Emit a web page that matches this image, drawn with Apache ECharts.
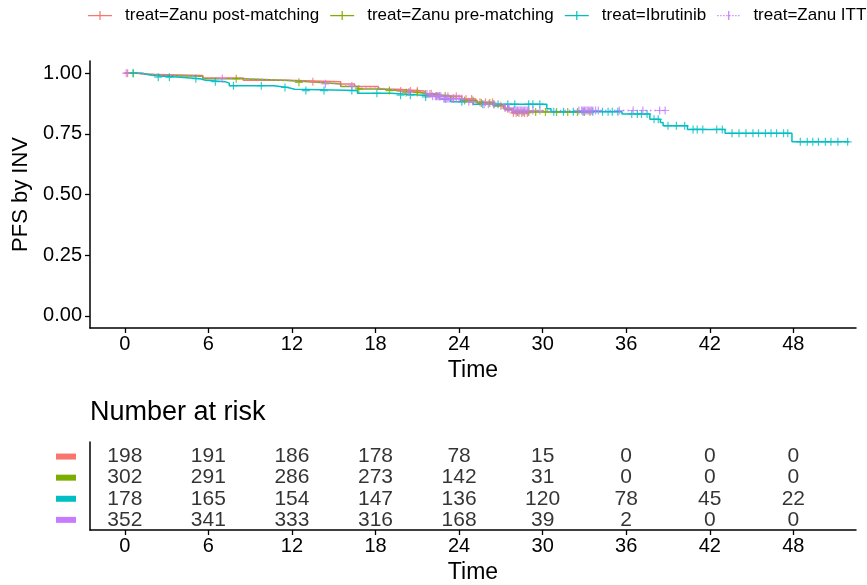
<!DOCTYPE html>
<html>
<head>
<meta charset="utf-8">
<script src="https://cdn.jsdelivr.net/npm/echarts@6.0.0/dist/echarts.min.js"></script>
<style>
  html, body { margin: 0; padding: 0; background: #fff; }
  #chart { width: 867px; height: 585px; }
</style>
</head>
<body>
<div id="chart"></div>
<script>
// Kaplan-Meier curves: [time in months, survival after the step]
const curvePost = [[0,1],[1.0,0.995],[1.5,0.99],[5.6,0.98],[8.5,0.971],[11.7,0.965],[15.5,0.955],[16.5,0.945],[18.2,0.934],[19.6,0.926],[21.5,0.915],[22.5,0.905],[24.2,0.893],[25.2,0.88],[26.5,0.866],[27.3,0.848],[27.8,0.836],[29.0,0.836]];
const curvePre = [[0,1],[0.8,0.997],[1.4,0.99],[2.6,0.987],[5.6,0.977],[8.5,0.97],[11.7,0.962],[13.8,0.955],[15.5,0.945],[16.7,0.935],[18.4,0.928],[19.6,0.92],[21.2,0.914],[21.9,0.906],[23.4,0.896],[24.1,0.887],[25.3,0.877],[26.5,0.866],[27.2,0.853],[27.9,0.84],[33.6,0.84]];
const curveIbr = [[0,1],[1.3,0.994],[1.6,0.989],[2.2,0.983],[4.0,0.977],[5.4,0.971],[5.8,0.965],[7.2,0.959],[7.5,0.948],[10.7,0.941],[11.7,0.934],[12.2,0.928],[16.7,0.917],[19.1,0.909],[21.4,0.902],[22.6,0.893],[23.4,0.882],[25.0,0.872],[30.3,0.853],[30.6,0.841],[35.7,0.832],[37.7,0.81],[38.45,0.797],[38.65,0.783],[40.4,0.768],[43.1,0.752],[47.9,0.717],[52.0,0.717]];
const curveITT = [[0,1],[1.0,0.997],[1.5,0.992],[2.6,0.988],[5.6,0.978],[8.5,0.97],[11.7,0.963],[13.8,0.956],[15.5,0.947],[16.7,0.938],[18.3,0.93],[19.6,0.922],[21.3,0.914],[22.0,0.905],[22.8,0.895],[24.5,0.882],[25.5,0.872],[27.2,0.856],[27.8,0.846],[38.8,0.846]];

// Censoring times (months)
const censorPost = [0.2,13.5,19.8,20.5,21.0,22.0,22.6,23.2,23.8,24.5,24.9,25.5,25.9,26.4,27.0,27.9,28.1,28.3,28.5,28.7,28.9];
const censorPre = [0.6,8.0,12.5,16.8,19.0,20.2,21.0,21.6,22.4,23.0,23.6,24.4,25.0,25.6,26.2,27.5,28.2,28.6,29.0,29.5,30.2,31.0,31.8,32.5,33.0,33.4];
const censorIbr = [0.6,2.4,3.2,5.1,6.5,7.8,9.8,11.5,13.0,14.3,16.3,18.1,19.8,20.5,21.6,23.0,24.2,25.7,26.5,26.8,27.5,28.0,29.0,29.3,29.8,30.8,31.5,32.2,32.9,33.6,34.3,34.7,35.0,35.4,36.4,36.8,37.1,37.5,38.0,38.3,39.0,39.6,40.2,40.8,41.1,41.5,42.5,42.9,43.6,44.1,44.6,45.1,45.5,46.0,46.4,46.8,47.3,47.6,48.5,49.0,49.4,49.8,50.3,50.7,51.2,51.9];
const censorITT = [0.1,7.0,14.4,16.3,20.4,21.7,21.9,22.1,22.3,22.4,22.5,22.6,22.7,22.9,23.0,23.1,23.2,23.3,23.5,23.6,23.8,24.0,24.2,24.7,25.0,25.8,26.1,26.5,27.3,27.5,27.6,27.9,28.0,28.1,28.2,28.3,28.4,28.5,28.6,28.7,28.8,28.9,29.0,29.3,29.8,32.6,32.8,32.9,33.0,33.1,33.2,33.3,33.4,33.5,33.6,33.8,34.0,35.5,36.5,37.2,38.4,38.8];

// Number at risk table
const riskTimes = [0,6,12,18,24,30,36,42,48];
const riskPost = [198,191,186,178,78,15,0,0,0];
const riskPre = [302,291,286,273,142,31,0,0,0];
const riskIbr = [178,165,154,147,136,120,78,45,22];
const riskITT = [352,341,333,316,168,39,2,0,0];

// Axis tick labels
const timeTicks = [0,6,12,18,24,30,36,42,48];
const survTicks = [0,0.25,0.5,0.75,1];

const groupNames = ['treat=Zanu post-matching','treat=Zanu pre-matching','treat=Ibrutinib','treat=Zanu ITT'];
const colors = ['#F8766D','#7CAE00','#00BFC4','#C77CFF'];
const curves = [curvePost, curvePre, curveIbr, curveITT];
const censors = [censorPost, censorPre, censorIbr, censorITT];
const risks = [riskPost, riskPre, riskIbr, riskITT];

const FONT = 'Liberation Sans, Arial, Helvetica, sans-serif';

function survAt(curve, t) {
  let s = curve[0][1];
  for (const [ti, si] of curve) { if (ti <= t) s = si; else break; }
  return s;
}

const plusPath = 'path://M0,3.4 L8,3.4 L8,4.6 L0,4.6 Z M3.4,0 L4.6,0 L4.6,8 L3.4,8 Z';
const solidIcon = 'path://M0,4 L24,4 L24,5.3 L0,5.3 Z M11.4,0 L12.6,0 L12.6,9 L11.4,9 Z';
let dotted = 'path://M11.4,0 L12.6,0 L12.6,9 L11.4,9 Z';
for (let x = 0.5; x < 24; x += 3) dotted += ' M' + x + ',4 L' + (x + 1.3) + ',4 L' + (x + 1.3) + ',5.3 L' + x + ',5.3 Z';

const series = [];
curves.forEach((c, i) => {
  series.push({
    name: groupNames[i], type: 'line', step: 'end', data: c,
    xAxisIndex: 0, yAxisIndex: 0, showSymbol: false, silent: true,
    color: colors[i],
    lineStyle: { width: 1.5, color: colors[i], type: i === 3 ? [1.5, 3] : 'solid' },
    z: 2 + i
  });
});
censors.forEach((c, i) => {
  series.push({
    name: groupNames[i] + ' censor', type: 'scatter', silent: true,
    xAxisIndex: 0, yAxisIndex: 0,
    data: c.map(t => [t, survAt(curves[i], t)]),
    symbol: plusPath, symbolSize: 8,
    itemStyle: { color: colors[i] },
    z: 6 + i
  });
});
const rowY = [4, 3, 2, 1];
risks.forEach((r, i) => {
  series.push({
    type: 'scatter', silent: true, xAxisIndex: 1, yAxisIndex: 1,
    data: r.map((n, k) => [riskTimes[k], rowY[i], n]),
    symbol: 'circle', symbolSize: 0.1,
    itemStyle: { color: 'rgba(0,0,0,0)' },
    label: {
      show: true, position: 'inside', formatter: p => String(p.value[2]),
      fontSize: 21, color: '#000', fontFamily: FONT
    }
  });
});

const axisLine = { show: true, onZero: false, lineStyle: { color: '#000', width: 1.5 } };
const axisTick = { show: true, length: 5, lineStyle: { color: '#000', width: 1.3 } };

const chart = echarts.init(document.getElementById('chart'), null, { renderer: 'canvas' });
chart.setOption({
  animation: false,
  backgroundColor: '#fff',
  textStyle: { fontFamily: FONT },
  title: {
    text: 'Number at risk', left: 90, top: 399, padding: 0,
    textStyle: { fontSize: 27, fontWeight: 'normal', color: '#000', fontFamily: FONT }
  },
  legend: {
    data: groupNames.map((n, i) => ({ name: n, icon: i === 3 ? dotted : solidIcon })),
    left: 88, top: 7, width: 2000, padding: 0,
    itemWidth: 24, itemHeight: 9, itemGap: 11,
    textStyle: { fontSize: 17, color: '#000', fontFamily: FONT, padding: [0, 0, 0, 8] }
  },
  grid: [
    { left: 90, top: 61, width: 766, height: 267 },
    { left: 90, top: 442, width: 766, height: 89 }
  ],
  xAxis: [
    {
      gridIndex: 0, type: 'value', min: -2.5, max: 52.5,
      name: 'Time', nameLocation: 'middle', nameGap: 31,
      nameTextStyle: { fontSize: 23, color: '#000', fontFamily: FONT },
      axisLine, axisTick: Object.assign({ customValues: timeTicks }, axisTick),
      axisLabel: { customValues: timeTicks, fontSize: 20, color: '#000', margin: 6, fontFamily: FONT },
      splitLine: { show: false }
    },
    {
      gridIndex: 1, type: 'value', min: -2.5, max: 52.5,
      name: 'Time', nameLocation: 'middle', nameGap: 31,
      nameTextStyle: { fontSize: 23, color: '#000', fontFamily: FONT },
      axisLine, axisTick: Object.assign({ customValues: timeTicks }, axisTick),
      axisLabel: { customValues: timeTicks, fontSize: 20, color: '#000', margin: 6, fontFamily: FONT },
      splitLine: { show: false }
    }
  ],
  yAxis: [
    {
      gridIndex: 0, type: 'value', min: -0.05, max: 1.05,
      name: 'PFS by INV', nameLocation: 'middle', nameGap: 51,
      nameTextStyle: { fontSize: 22, color: '#000', fontFamily: FONT },
      axisLine, axisTick: Object.assign({ customValues: survTicks }, axisTick),
      axisLabel: { customValues: survTicks, formatter: v => v.toFixed(2), fontSize: 20, color: '#000', margin: 8, fontFamily: FONT },
      splitLine: { show: false }
    },
    {
      gridIndex: 1, type: 'value', min: 0.52, max: 4.69,
      axisLine, axisTick: { show: false },
      axisLabel: {
        customValues: [1, 2, 3, 4], margin: 14,
        formatter: v => '{r' + v + '|}',
        rich: {
          r4: { backgroundColor: colors[0], width: 20, height: 6 },
          r3: { backgroundColor: colors[1], width: 20, height: 6 },
          r2: { backgroundColor: colors[2], width: 20, height: 6 },
          r1: { backgroundColor: colors[3], width: 20, height: 6 }
        }
      },
      splitLine: { show: false }
    }
  ],
  series
});
</script>
</body>
</html>
